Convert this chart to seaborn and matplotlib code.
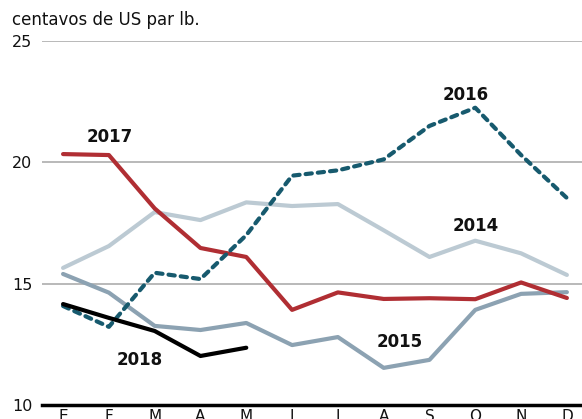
import matplotlib
matplotlib.use("Agg")
import matplotlib.pyplot as plt
import seaborn as sns
import pandas as pd

# monthly prices, US cents per lb
months = ["E", "F", "M", "A", "M", "J", "J", "A", "S", "O", "N", "D"]
y2014 = [15.65, 16.55, 17.95, 17.62, 18.35, 18.2, 18.28, 17.2, 16.1, 16.77, 16.25, 15.36]
y2015 = [15.4, 14.63, 13.26, 13.09, 13.38, 12.47, 12.8, 11.53, 11.86, 13.92, 14.58, 14.65]
y2016 = [14.08, 13.22, 15.45, 15.19, 17.0, 19.45, 19.67, 20.12, 21.5, 22.25, 20.3, 18.53]
y2017 = [20.34, 20.3, 18.1, 16.47, 16.1, 13.92, 14.64, 14.37, 14.4, 14.36, 15.05, 14.41]
y2018 = [14.16, 13.59, 13.05, 12.02, 12.36]

sns.set_style("white")
plt.rcParams["font.family"] = ["DejaVu Sans"]

fig = plt.figure(figsize=(5.82, 4.19), dpi=100)
ax = fig.add_axes([42 / 582, 14 / 419, 1 - 42 / 582, 364 / 419])

x = list(range(12))
lw = 3.0
sns.lineplot(x=x, y=y2014, color="#bccad3", linewidth=lw, ax=ax, zorder=2)
sns.lineplot(x=x, y=y2015, color="#8ca2b2", linewidth=lw, ax=ax, zorder=3)
sns.lineplot(x=x, y=y2017, color="#b02e33", linewidth=lw, ax=ax, zorder=4)
# 2016 dashed, round caps -> gap must be wider than the line
sns.lineplot(x=x, y=y2016, color="#175a6e", linewidth=lw, ax=ax, zorder=5,
             linestyle=(0, (1.5, 1.45)), dash_capstyle="round")
sns.lineplot(x=x[:5], y=y2018, color="#000000", linewidth=lw, ax=ax, zorder=6)

# year labels
lab = dict(fontsize=12, fontweight="bold", ha="center", va="center", color="#111111")
ax.text(1.03, 21.05, "2017", **lab)
ax.text(8.8, 22.78, "2016", **lab)
ax.text(9.0, 17.38, "2014", **lab)
ax.text(7.36, 12.6, "2015", **lab)
ax.text(1.68, 11.86, "2018", **lab)

ax.set_xlim(-0.46, 11.33)
ax.set_ylim(10, 25)
ax.set_yticks([10, 15, 20, 25])
ax.set_xticks(x)
ax.set_xticklabels(months)
ax.grid(axis="y", color="#b3b3b3", linewidth=1.3)
ax.grid(axis="x", visible=False)
for s in ["top", "right", "left"]:
    ax.spines[s].set_visible(False)
ax.spines["bottom"].set_color("black")
ax.spines["bottom"].set_linewidth(2.5)
ax.spines["bottom"].set_zorder(7)
ax.tick_params(axis="y", length=0, pad=7, labelsize=11.5, colors="#111111")
ax.tick_params(axis="x", direction="in", length=5, width=1.8, color="black",
               pad=3, labelsize=11, labelcolor="#111111")
ax.set_xlabel("")
ax.set_ylabel("")

fig.text(12 / 582, 1 - 20 / 419, "centavos de US par lb.", fontsize=12,
         ha="left", va="center", color="#111111")

fig.savefig("out.png", dpi=100)
